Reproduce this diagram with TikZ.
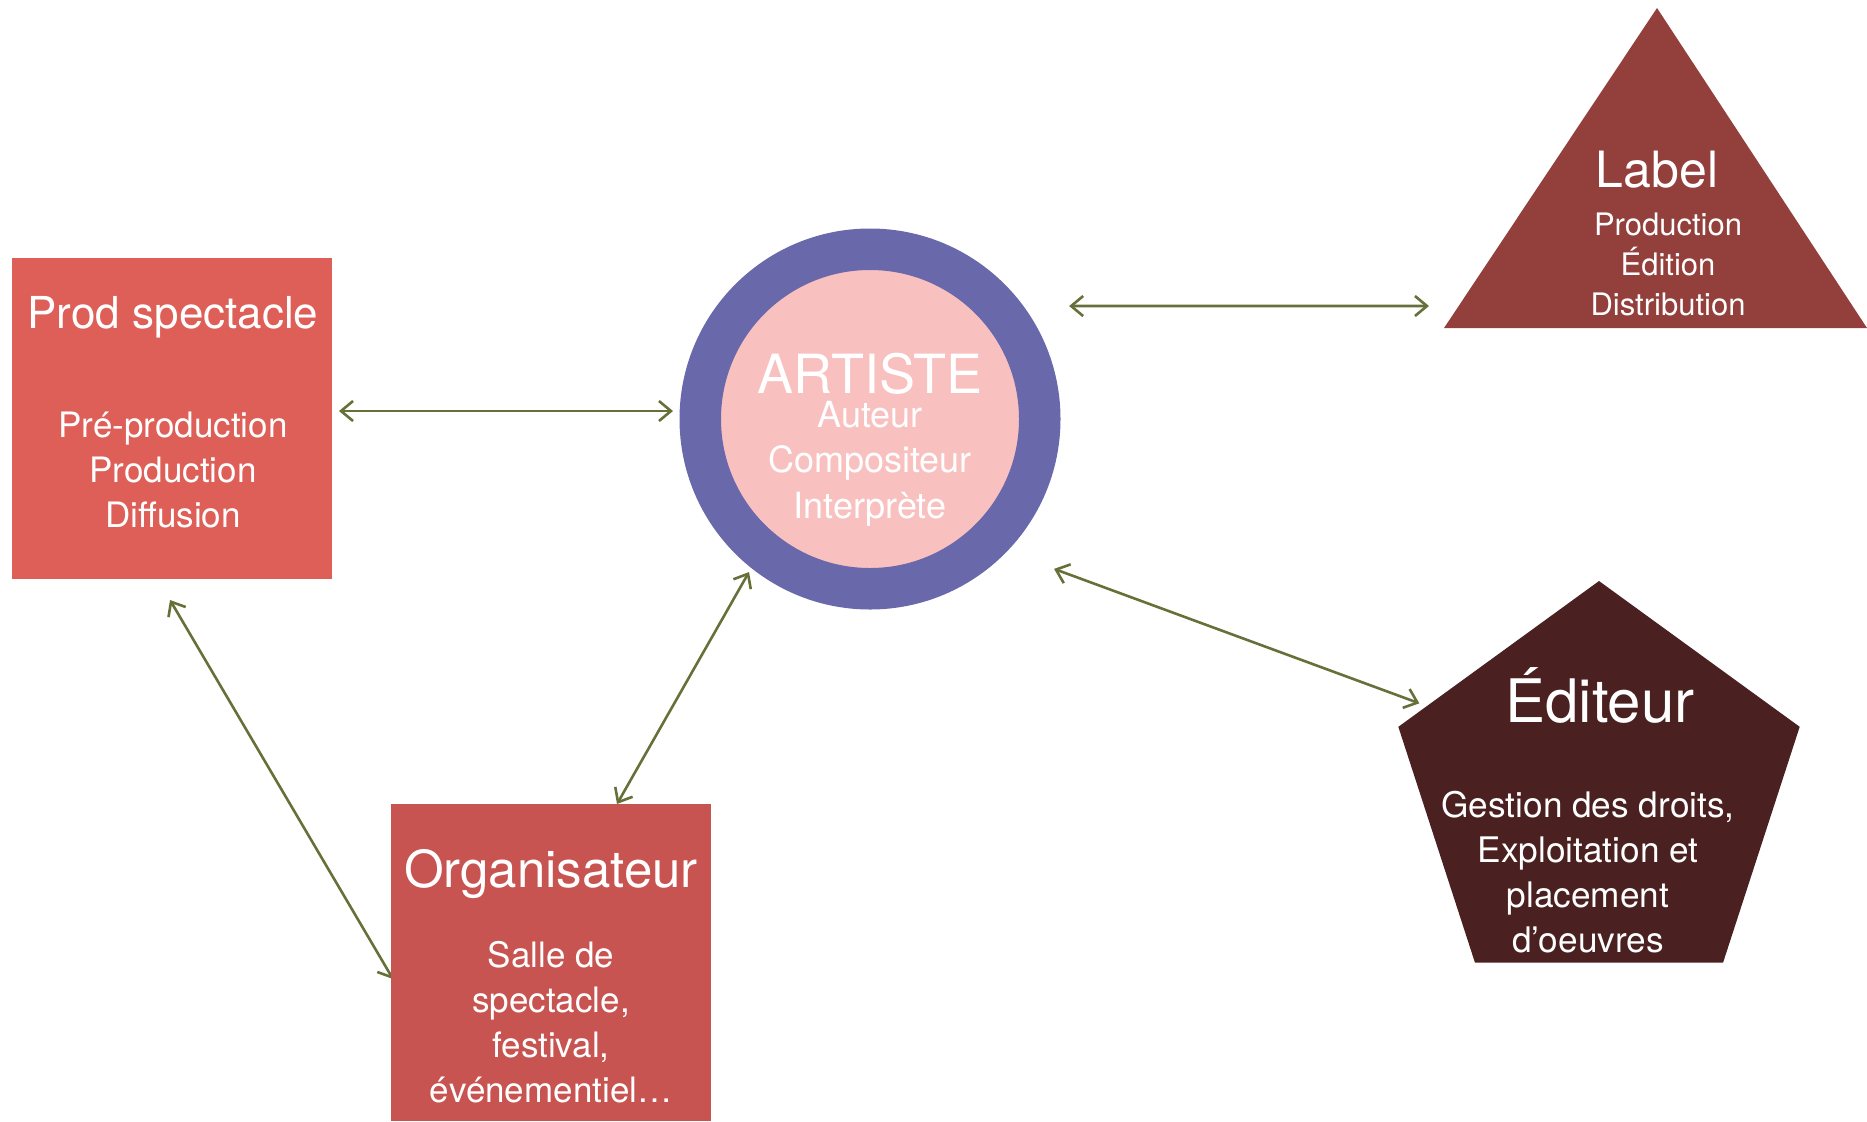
\documentclass[tikz,border=0pt]{standalone}
\usepackage{fontspec}
\setmainfont{TeX Gyre Heros}
\usetikzlibrary{arrows.meta,positioning,shapes.geometric,backgrounds}

\definecolor{prodred}{HTML}{DE5F58}
\definecolor{orgared}{HTML}{C85451}
\definecolor{ringblue}{HTML}{6868AB}
\definecolor{pinkfill}{HTML}{F9C0C0}
\definecolor{labelred}{HTML}{933F3C}
\definecolor{editbrown}{HTML}{4A2020}
\definecolor{linkolive}{HTML}{677038}

\begin{document}
\begin{tikzpicture}[x=0.5pt,y=-0.5pt,
                    >={Straight Barb[length=6pt,width=10pt,line width=1.3pt]},
                    box/.style={rectangle,inner sep=0pt,outer sep=0pt,
                                minimum width=160pt},
                    txt/.style={text=white,align=center,inner sep=0pt,anchor=base},
                    link/.style={<->,draw=linkolive,line width=1.3pt}]
  \useasboundingbox (0,0) rectangle (1867,1121);

  \node[box,fill=prodred,minimum height=160.5pt] (prod) at (172,418.5) {};
  \node[box,fill=orgared,minimum height=158.5pt] (orga) at (551,962.5) {};
  \node[circle,fill=pinkfill,draw=ringblue,line width=20.75pt,
        minimum size=169.75pt,inner sep=0pt] (artiste) at (870,419) {};
  \node[regular polygon,regular polygon sides=5,minimum size=211pt,
        inner sep=0pt,outer sep=0pt,fill=editbrown] (editeur) at (1599,792) {};

  % triangle du label
  \coordinate (labtop) at (1657,8);
  \coordinate (labl) at (1444,328);
  \coordinate (labr) at (1867,328);
  \fill[labelred] (labtop) -- (labl) -- (labr) -- cycle;

  % textes (base = ligne du bas)
  \node[txt,font=\fontsize{22}{26}\selectfont] (prodtitle) at (173,328) {Prod spectacle};
  \node[txt,font=\fontsize{17.5}{22.5}\selectfont] (prodsub) at (173,527)
       {Pré-production\\Production\\Diffusion};
  \node[txt,font=\fontsize{27}{32}\selectfont] (artistetitle) at (870,393) {ARTISTE};
  \node[txt,font=\fontsize{18}{22.75}\selectfont] (artistesub) at (870,518)
       {Auteur\\Compositeur\\Interprète};
  \node[txt,font=\fontsize{25}{30}\selectfont] (labeltitle) at (1657,187) {Label};
  \node[txt,font=\fontsize{15.5}{20}\selectfont] (labelsub) at (1668,315)
       {Production\\Édition\\Distribution};
  \node[txt,font=\fontsize{30}{36}\selectfont] (editeurtitle) at (1600,722) {Éditeur};
  \node[txt,font=\fontsize{17.6}{22.5}\selectfont] (editeursub) at (1588,952)
       {Gestion des droits,\\Exploitation et\\placement\\d’oeuvres};
  \node[txt,font=\fontsize{25.5}{30}\selectfont] (orgatitle) at (551,887) {Organisateur};
  \node[txt,font=\fontsize{17.5}{22.5}\selectfont] (orgasub) at (551,1102)
       {Salle de\\spectacle,\\festival,\\événementiel…};

  \begin{scope}[on background layer]
    \draw[link] ([xshift=3.5pt,yshift=3.75pt]prod.east)
             -- ([xshift=-3.25pt,yshift=4pt]artiste.west);
    \draw[link] ([xshift=22.5pt,yshift=0.5pt]artiste.36)
             -- ([xshift=-7.5pt,yshift=11pt]labl);
    \draw[link] ([xshift=18pt,yshift=-15pt]artiste.-39)
             -- ([xshift=10.5pt,yshift=11.75pt]editeur.corner 2);
    \draw[link] ([xshift=33pt]orga.north)
             -- ([xshift=-1.85pt,yshift=-1.45pt]artiste.-128);
    \draw[link] ([xshift=-1pt,yshift=-10.5pt]prod.south)
             -- ([xshift=1pt,yshift=-8.25pt]orga.west);
  \end{scope}
\end{tikzpicture}
\end{document}
